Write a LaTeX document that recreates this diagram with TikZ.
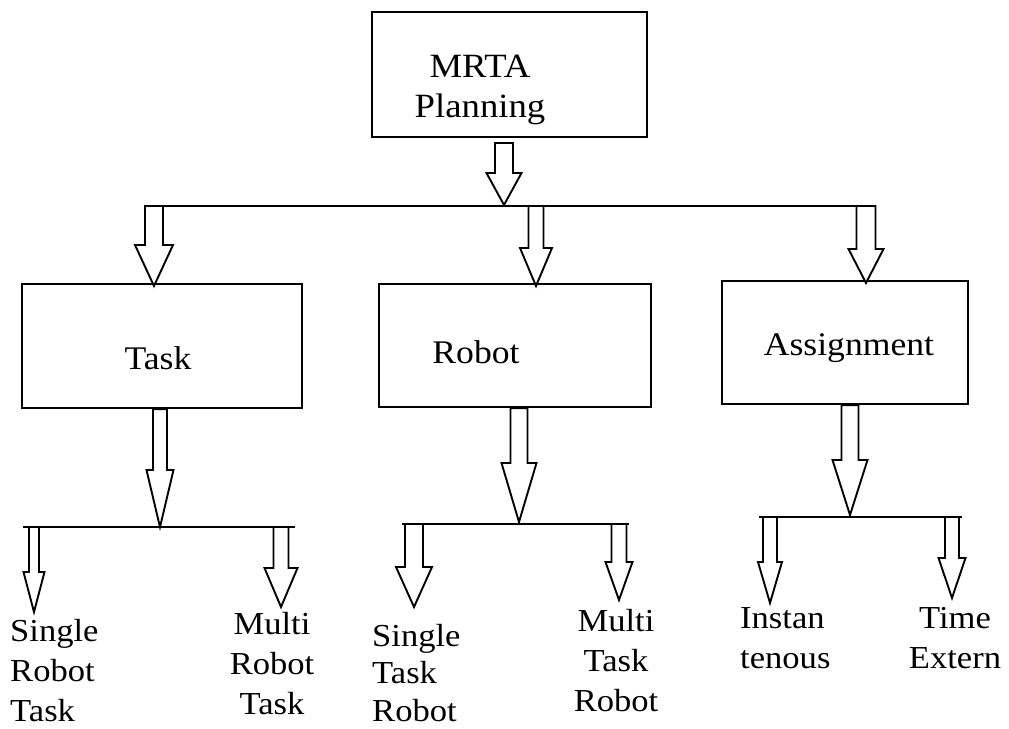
\documentclass[tikz,border=0pt]{standalone}
\usepackage{fontspec}
\setmainfont{Liberation Serif}[FakeStretch=1.08]
\usetikzlibrary{calc}

% hollow block arrow: #1 top coordinate, #2 tip coordinate,
% #3 head length, #4 half shaft width, #5 half head width
\newcommand\hollowarrow[5]{%
  \draw[arrowline] ($(#2|-#1)+(-#4,0)$) -- ($(#2)+(-#4,-#3)$) -- ($(#2)+(-#5,-#3)$)
    -- (#2) -- ($(#2)+(#5,-#3)$) -- ($(#2)+(#4,-#3)$) -- ($(#2|-#1)+(#4,0)$) -- cycle;}

\tikzset{
  box/.style={draw, line width=2.4pt, inner sep=0pt},
  arrowline/.style={draw, fill=white, line width=1.9pt, line join=miter},
  bus/.style={line width=2pt},
  boxtext/.style={inner sep=0pt, font=\fontsize{33}{40}\selectfont},
  leaf/.style={inner sep=0pt, font=\fontsize{32}{40}\selectfont},
}

\begin{document}
\begin{tikzpicture}[x=1pt, y=-1pt]
\useasboundingbox (0,0) rectangle (1009,728);

% boxes
\node[box, minimum width=275pt, minimum height=125pt] (mrta) at (509.5,74.5) {};
\node[box, minimum width=280pt, minimum height=124pt] (task) at (162,346) {};
\node[box, minimum width=272pt, minimum height=123pt] (robot) at (515,345.5) {};
\node[box, minimum width=246pt, minimum height=123pt] (assign) at (845,342.5) {};

% box captions
\node[boxtext, align=center, anchor=north, font=\fontsize{34}{40}\selectfont] (mrtatext) at (480,55) {MRTA\\Planning};
\node[boxtext, anchor=base] (tasktext) at (158,369) {Task};
\node[boxtext, anchor=base] (robottext) at (476,363) {Robot};
\node[boxtext, anchor=base] (assigntext) at (849,355) {Assignment};

% leaf captions
\node[leaf, align=left, anchor=north west] (srt) at (10,619) {Single\\Robot\\Task};
\node[leaf, align=center, anchor=north] (mrt) at (272,612) {Multi\\Robot\\Task};
\node[leaf, align=left, anchor=north west, font=\fontsize{32}{37.5}\selectfont] (str) at (372,624) {Single\\Task\\Robot};
\node[leaf, align=center, anchor=north] (mtr) at (616,609) {Multi\\Task\\Robot};
\node[leaf, align=left, anchor=north west] (inst) at (740,607) {Instan\\tenous};
\node[leaf, align=center, anchor=north] (time) at (955,607) {Time\\Extern};

% bus lines
\coordinate (b1w) at (145,206);  \coordinate (b1e) at (875,206);
\coordinate (b2w) at (23,527);   \coordinate (b2e) at (295,527);
\coordinate (b3w) at (402,524);  \coordinate (b3e) at (629,524);
\coordinate (b4w) at (759,517);  \coordinate (b4e) at (962,517);
\draw[bus] (b1w) -- (b1e);
\draw[bus] (b2w) -- (b2e);
\draw[bus] (b3w) -- (b3e);
\draw[bus] (b4w) -- (b4e);

% arrow tops and tips
\coordinate (a0t) at (504,143); \coordinate (a0) at (504,205);
\coordinate (a1) at (154,286);  \coordinate (a2) at (536,286);  \coordinate (a3) at (866,283);
\coordinate (a4) at (160,527);  \coordinate (a5) at (519,522);  \coordinate (a6) at (850,515);
\coordinate (a7) at (34,612);   \coordinate (a8) at (281,607);
\coordinate (a9) at (414,607);  \coordinate (a10) at (619,600);
\coordinate (a11) at (770,603); \coordinate (a12) at (952,598);

% planning to bus
\hollowarrow{a0t}{a0}{32}{9}{17.5}
% bus to the three categories
\hollowarrow{b1w}{a1}{41}{9}{19}
\hollowarrow{b1w}{a2}{38}{7.5}{16}
\hollowarrow{b1w}{a3}{34}{9.5}{17.5}
% categories to their buses
\hollowarrow{task.south}{a4}{57}{7}{13.5}
\hollowarrow{robot.south}{a5}{59}{8.5}{17.5}
\hollowarrow{assign.south}{a6}{55}{8.5}{17.5}
% buses to leaves
\hollowarrow{b2w}{a7}{40}{5}{10.5}
\hollowarrow{b2w}{a8}{39}{7.5}{16.5}
\hollowarrow{b3w}{a9}{40}{9}{18}
\hollowarrow{b3w}{a10}{38}{7.5}{13.5}
\hollowarrow{b4w}{a11}{41}{7}{12}
\hollowarrow{b4w}{a12}{40}{7}{13.5}
\end{tikzpicture}
\end{document}
